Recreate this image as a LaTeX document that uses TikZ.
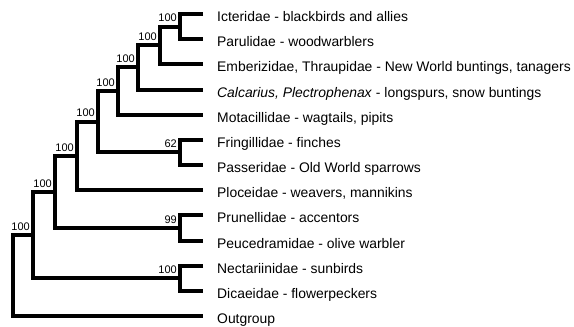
\documentclass[tikz,border=0pt]{standalone}
\usepackage{fontspec}
\setmainfont{Liberation Sans}
\usepackage{tikz}
\usetikzlibrary{positioning}

\begin{document}
\begin{tikzpicture}[
  x=1pt, y=-1pt,
  branch/.style={line width=4pt, line cap=butt, line join=miter, black},
  taxon/.style={anchor=base west, inner sep=0pt,
                font=\fontsize{13.9}{16}\selectfont},
  boot/.style={inner sep=0pt, font=\fontsize{11}{13}\selectfont}
]
\useasboundingbox (0,0) rectangle (574,327);

% branch tips
\coordinate (icter-tip)  at (203,14);
\coordinate (parul-tip)  at (203,39.17);
\coordinate (ember-tip)  at (203,64.33);
\coordinate (calc-tip)   at (203,89.5);
\coordinate (motac-tip)  at (203,114.67);
\coordinate (fring-tip)  at (203,139.83);
\coordinate (passer-tip) at (203,165);
\coordinate (ploce-tip)  at (203,190.17);
\coordinate (prun-tip)   at (203,215.33);
\coordinate (peuc-tip)   at (203,240.5);
\coordinate (nect-tip)   at (203,265.67);
\coordinate (dicae-tip)  at (203,290.83);
\coordinate (outg-tip)   at (203,316);

% internal nodes
\coordinate (n1)  at (180,26.58);
\coordinate (n2)  at (160,45.46);
\coordinate (n3)  at (138,67.48);
\coordinate (n4)  at (118,91.07);
\coordinate (n5)  at (180,152.42);
\coordinate (n6)  at (98,121.74);
\coordinate (n7)  at (77,155.96);
\coordinate (n8)  at (180,227.92);
\coordinate (n9)  at (55,191.94);
\coordinate (n10) at (180,278.25);
\coordinate (n11) at (33,235.1);
\coordinate (n12) at (13,275.55);

% taxa
\node[taxon] (icter)  at ([xshift=14pt,yshift=-7.5pt]icter-tip)
  {Icteridae - blackbirds and allies};
\node[taxon] (parul)  at ([xshift=14pt,yshift=-7.5pt]parul-tip)
  {Parulidae - woodwarblers};
\node[taxon] (ember)  at ([xshift=14pt,yshift=-7.5pt]ember-tip)
  {Emberizidae, Thraupidae - New World buntings, tanagers};
\node[taxon] (calc)   at ([xshift=14pt,yshift=-7.5pt]calc-tip)
  {\textit{Calcarius, Plectrophenax} - longspurs, snow buntings};
\node[taxon] (motac)  at ([xshift=14pt,yshift=-7.5pt]motac-tip)
  {Motacillidae - wagtails, pipits};
\node[taxon] (fring)  at ([xshift=14pt,yshift=-7.5pt]fring-tip)
  {Fringillidae - finches};
\node[taxon] (passer) at ([xshift=14pt,yshift=-7.5pt]passer-tip)
  {Passeridae - Old World sparrows};
\node[taxon] (ploce)  at ([xshift=14pt,yshift=-7.5pt]ploce-tip)
  {Ploceidae - weavers, mannikins};
\node[taxon] (prun)   at ([xshift=14pt,yshift=-7.5pt]prun-tip)
  {Prunellidae - accentors};
\node[taxon] (peuc)   at ([xshift=14pt,yshift=-7.5pt]peuc-tip)
  {Peucedramidae - olive warbler};
\node[taxon] (nect)   at ([xshift=14pt,yshift=-7.5pt]nect-tip)
  {Nectariinidae - sunbirds};
\node[taxon] (dicae)  at ([xshift=14pt,yshift=-7.5pt]dicae-tip)
  {Dicaeidae - flowerpeckers};
\node[taxon] (outg)   at ([xshift=14pt,yshift=-7.5pt]outg-tip)
  {Outgroup};

% support values
\node[boot, above left=4.5pt and 3pt of n1]  (b1)  {100};
\node[boot, above left=4.5pt and 3pt of n2]  (b2)  {100};
\node[boot, above left=4.5pt and 3pt of n3]  (b3)  {100};
\node[boot, above left=4.5pt and 3pt of n4]  (b4)  {100};
\node[boot, above left=4.5pt and 3pt of n5]  (b5)  {62};
\node[boot, above left=4.5pt and 3pt of n6]  (b6)  {100};
\node[boot, above left=4.5pt and 3pt of n7]  (b7)  {100};
\node[boot, above left=4.5pt and 3pt of n8]  (b8)  {99};
\node[boot, above left=4.5pt and 3pt of n9]  (b9)  {100};
\node[boot, above left=4.5pt and 3pt of n10] (b10) {100};
\node[boot, above left=4.5pt and 3pt of n11] (b11) {100};

% tree
\draw[branch] (icter-tip) -| (n1) |- (parul-tip);
\draw[branch] (n1) -| (n2) |- (ember-tip);
\draw[branch] (n2) -| (n3) |- (calc-tip);
\draw[branch] (n3) -| (n4) |- (motac-tip);
\draw[branch] (fring-tip) -| (n5) |- (passer-tip);
\draw[branch] (n4) -| (n6) |- (n5);
\draw[branch] (n6) -| (n7) |- (ploce-tip);
\draw[branch] (prun-tip) -| (n8) |- (peuc-tip);
\draw[branch] (n7) -| (n9) |- (n8);
\draw[branch] (nect-tip) -| (n10) |- (dicae-tip);
\draw[branch] (n9) -| (n11) |- (n10);
\draw[branch] (n11) -| (n12) |- (outg-tip);

\end{tikzpicture}
\end{document}
